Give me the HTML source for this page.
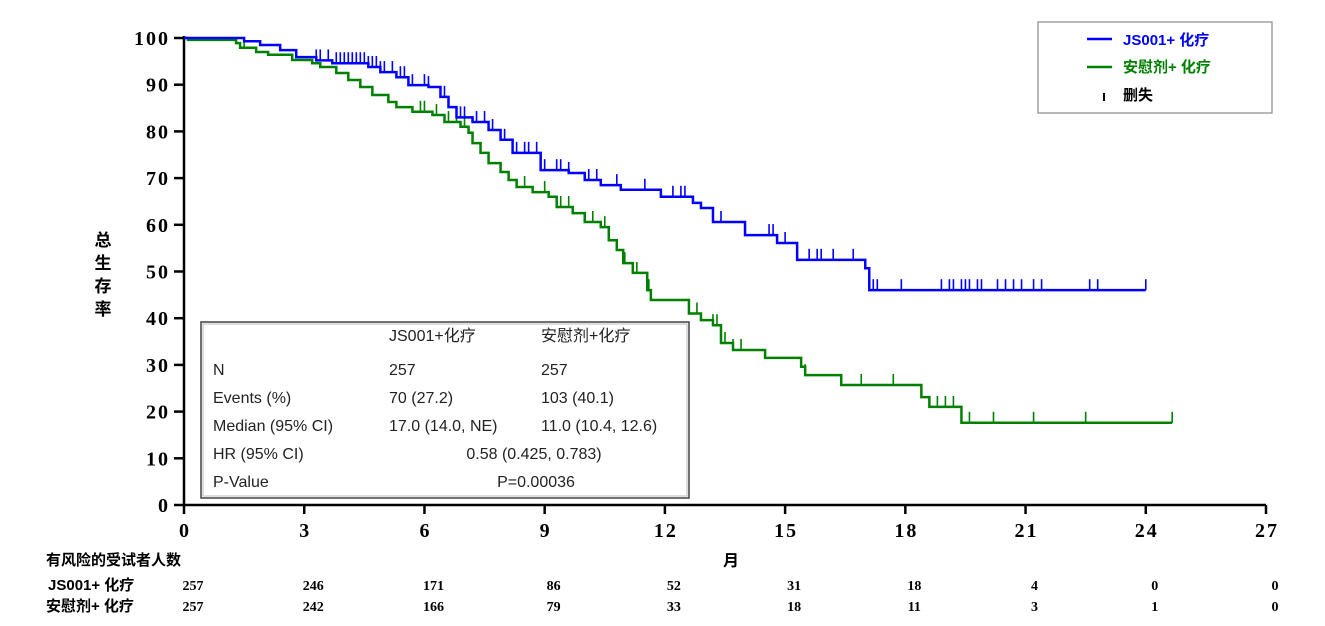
<!DOCTYPE html>
<html><head><meta charset="utf-8"><style>
body{margin:0;background:#fff;width:1325px;height:626px;overflow:hidden}
svg{display:block}
.tk{font-family:"Liberation Serif",serif;font-weight:bold;font-size:20px;letter-spacing:2px}
.cj{font-family:"Liberation Sans","Noto Sans CJK SC",sans-serif;font-weight:bold}
.st{font-family:"Liberation Sans","Noto Sans CJK SC",sans-serif;font-size:16px;fill:#222}
.rn{font-family:"Liberation Serif",serif;font-weight:bold;font-size:14px}
</style></head><body>
<svg id="chart" width="1325" height="626"></svg>
<script>
const xTicks=[0,3,6,9,12,15,18,21,24,27];
const yTicks=[0,10,20,30,40,50,60,70,80,90,100];
const blueT=[0,1.5,1.9,2.4,2.8,3.3,3.7,4.6,4.9,5.3,5.6,6.1,6.4,6.6,6.8,7.2,7.6,7.9,8.2,8.9,9.6,10.0,10.4,10.9,11.9,12.7,12.9,13.2,14.0,14.8,15.3,17.0,17.1];
const blueS=[100,99.3,98.5,97.4,95.9,95.2,94.6,93.8,92.7,91.6,89.9,89.5,87.4,85.2,83,82,80.3,78.2,75.4,71.7,71.1,69.6,68.5,67.5,66,64.7,63.6,60.6,57.8,56.1,52.5,50.7,46];
const blueEnd=24.0;
const blueCens=[3.3,3.4,3.6,3.8,3.9,4.0,4.1,4.2,4.3,4.4,4.5,4.6,4.7,4.8,4.9,5.0,5.2,5.4,5.5,5.7,6.0,6.1,6.4,6.5,6.6,6.8,6.9,7.0,7.3,7.5,7.7,8.0,8.3,8.5,8.6,8.8,9.0,9.3,9.4,9.6,10.1,10.3,10.8,11.5,12.2,12.4,12.5,13.4,14.0,14.6,14.7,15.0,15.6,15.8,15.9,16.2,16.7,17.2,17.3,17.9,18.9,19.1,19.2,19.4,19.5,19.6,19.8,19.9,20.3,20.5,20.7,20.9,21.2,21.4,22.6,22.8,24.0];
const greenT=[0,0.1,1.3,1.4,1.8,2.1,2.7,3.2,3.4,3.8,4.1,4.4,4.7,5.1,5.3,5.7,6.2,6.5,6.9,7.1,7.2,7.4,7.6,7.9,8.1,8.3,8.7,9.1,9.3,9.7,10.0,10.4,10.6,10.8,10.96,11.2,11.56,11.65,12.6,12.9,13.2,13.4,13.7,14.5,15.4,15.5,16.4,18.4,18.6,19.4];
const greenS=[100,99.6,98.9,97.9,97,96.4,95.3,94.6,93.8,92.5,91,89.5,87.8,86.3,85.2,84.2,83.5,82,81,79.7,77.5,75.4,73.2,71.3,69.6,68.1,67,66,63.8,62.5,60.6,59.5,56.7,54.6,51.8,49.7,46,43.9,41,39.6,38.5,34.7,33.2,31.5,29.6,27.8,25.7,23.1,21,17.6];
const greenEnd=24.66;
const greenCens=[1.5,5.9,6.0,6.3,6.6,6.8,7.0,7.4,7.6,8.5,9.0,9.3,9.4,9.6,10.2,10.5,10.8,11.0,11.3,11.6,12.8,13.2,13.3,13.5,13.7,13.9,15.5,16.9,17.7,18.8,19.0,19.2,19.6,20.2,21.2,22.5,24.66];
const riskBlue=[257,246,171,86,52,31,18,4,0,0];
const riskGreen=[257,242,166,79,33,18,11,3,1,0];

const NS="http://www.w3.org/2000/svg";
const svg=document.getElementById('chart');
const X0=184,X1=1266,Y0=505,Y1=38;
const sx=t=>X0+(X1-X0)*t/27;
const sy=v=>Y0-(Y0-Y1)*v/100;
function mk(tag,attrs,parent){const e=document.createElementNS(NS,tag);for(const k in attrs)e.setAttribute(k,attrs[k]);(parent||svg).appendChild(e);return e;}
function txt(s,attrs){const e=mk('text',attrs);e.textContent=s;return e;}

let a=mk('line',{x1:X0,y1:Y1-2,x2:X0,y2:Y0,stroke:'#000','stroke-width':2.5});


a=mk('line',{x1:X0,y1:Y0,x2:X1,y2:Y0,stroke:'#000','stroke-width':2.5});


yTicks.forEach(v=>{
  mk('line',{x1:X0-10,x2:X0,y1:sy(v),y2:sy(v),stroke:'#000','stroke-width':2.5});
  const t=txt(v,{x:X0-14,y:sy(v)+7,'text-anchor':'end',class:'tk'});
  
  
});
xTicks.forEach((v,i)=>{
  mk('line',{x1:sx(v),x2:sx(v),y1:Y0,y2:Y0+9,stroke:'#000','stroke-width':2.5});
  const t=txt(v,{x:sx(v)+1,y:Y0+32,'text-anchor':'middle',class:'tk'});
  
  
  const r1=txt(riskBlue[i],{x:sx(v)+9,y:590,'text-anchor':'middle',class:'rn'});
  
  
  const r2=txt(riskGreen[i],{x:sx(v)+9,y:611,'text-anchor':'middle',class:'rn'});
  
  
});

function stepAt(T,S,t){let s=S[0];for(let i=0;i<T.length;i++){if(T[i]<=t)s=S[i];}return s;}
function drawSeries(T,S,end,cens,color,name){
  let d='M'+sx(T[0])+' '+sy(S[0]);
  for(let i=1;i<T.length;i++){d+=' H'+sx(T[i])+' V'+sy(S[i]);}
  d+=' H'+sx(end);
  const p=mk('path',{d:d,fill:'none',stroke:color,'stroke-width':2.5});
  
  
  cens.forEach(c=>{
    const y=sy(stepAt(T,S,c));
    const l=mk('line',{x1:sx(c),x2:sx(c),y1:y,y2:y-11,stroke:color,'stroke-width':1.6});
    
    
  });
}
drawSeries(greenT,greenS,greenEnd,greenCens,'#008000','placebo');
drawSeries(blueT,blueS,blueEnd,blueCens,'#0000ff','js001');

let t=txt('月',{x:731,y:566,'text-anchor':'middle',class:'cj','font-size':16});


const yt=mk('g',{});


['总','生','存','率'].forEach((c,i)=>{const e=mk('text',{x:103,y:246+i*23,'text-anchor':'middle',class:'cj','font-size':17},yt);e.textContent=c;});
t=txt('有风险的受试者人数',{x:46,y:565,class:'cj','font-size':15});


t=txt('JS001+ 化疗',{x:48,y:590,class:'cj','font-size':15});


t=txt('安慰剂+ 化疗',{x:46,y:611,class:'cj','font-size':15});



const lg=mk('g',{});


mk('rect',{x:1038,y:22,width:234,height:91,fill:'#fff',stroke:'#888','stroke-width':1.2},lg);
mk('line',{x1:1087,x2:1112,y1:39,y2:39,stroke:'#0000ff','stroke-width':2.5},lg);
mk('line',{x1:1087,x2:1112,y1:67,y2:67,stroke:'#008000','stroke-width':2.5},lg);
mk('line',{x1:1104,x2:1104,y1:93,y2:101,stroke:'#000','stroke-width':2},lg);
let e=mk('text',{x:1123,y:45,class:'cj','font-size':15,fill:'#0000ff'},lg);e.textContent='JS001+ 化疗';
e=mk('text',{x:1123,y:72,class:'cj','font-size':15,fill:'#008000'},lg);e.textContent='安慰剂+ 化疗';
e=mk('text',{x:1123,y:100,class:'cj','font-size':15},lg);e.textContent='删失';

const sb=mk('g',{});


mk('rect',{x:201,y:322,width:488,height:176,fill:'#fff',stroke:'#444','stroke-width':1.5},sb);
mk('rect',{x:203,y:324,width:484,height:172,fill:'none',stroke:'#bbb','stroke-width':1},sb);
const rows=[['','JS001+化疗','安慰剂+化疗',341],['N','257','257',375],['Events (%)','70 (27.2)','103 (40.1)',403],['Median (95% CI)','17.0 (14.0, NE)','11.0 (10.4, 12.6)',431]];
rows.forEach(r=>{
  [[r[0],213],[r[1],389],[r[2],541]].forEach(c=>{const q=mk('text',{x:c[1],y:r[3],class:'st'},sb);q.textContent=c[0];});
});
e=mk('text',{x:213,y:459,class:'st'},sb);e.textContent='HR (95% CI)';
e=mk('text',{x:534,y:459,class:'st','text-anchor':'middle'},sb);e.textContent='0.58 (0.425, 0.783)';
e=mk('text',{x:213,y:487,class:'st'},sb);e.textContent='P-Value';
e=mk('text',{x:536,y:487,class:'st','text-anchor':'middle'},sb);e.textContent='P=0.00036';
</script>
</body></html>
